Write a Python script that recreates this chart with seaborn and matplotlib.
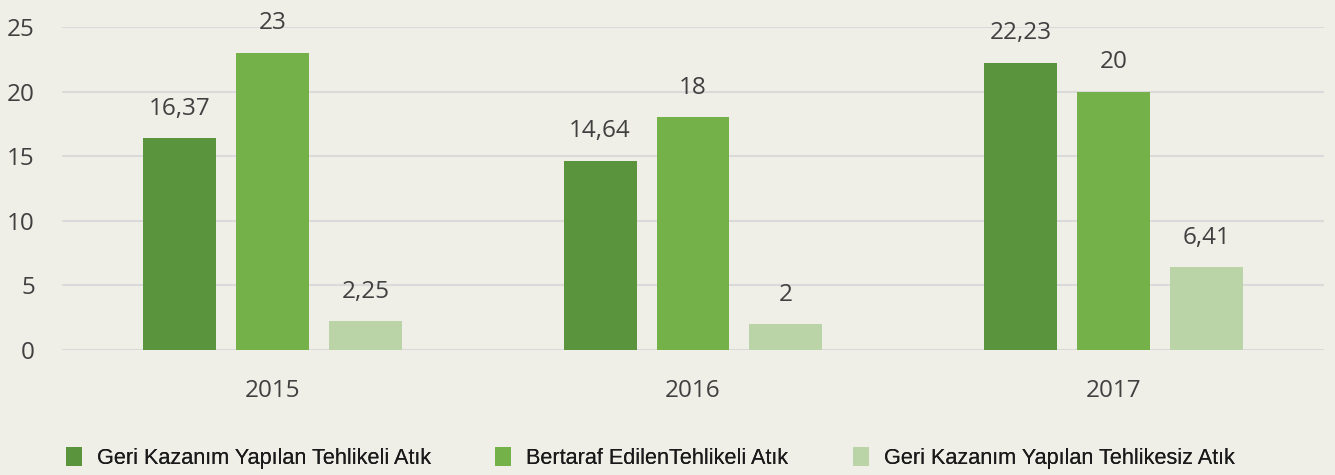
import pandas as pd
import seaborn as sns
import matplotlib.pyplot as plt
from matplotlib.patches import Patch

# data
years = ["2015", "2016", "2017"]
series = [
    "Geri Kazanım Yapılan Tehlikeli Atık",
    "Bertaraf EdilenTehlikeli Atık",
    "Geri Kazanım Yapılan Tehlikesiz Atık",
]
geri_kazanim_tehlikeli = [16.37, 14.64, 22.23]
bertaraf_tehlikeli = [23, 18, 20]
geri_kazanim_tehlikesiz = [2.25, 2, 6.41]
yticks = [0, 5, 10, 15, 20, 25]

colors = ["#5a943c", "#74b148", "#bad4a8"]
bg = "#efefe8"
text_color = "#404040"

rows = []
for name, vals in zip(series, [geri_kazanim_tehlikeli, bertaraf_tehlikeli, geri_kazanim_tehlikesiz]):
    for y, v in zip(years, vals):
        rows.append({"year": y, "series": name, "value": v})
df = pd.DataFrame(rows)

sns.set_theme(style="white")
plt.rcParams["font.family"] = ["Open Sans", "DejaVu Sans"]

fig = plt.figure(figsize=(13.35, 4.75), dpi=100, facecolor=bg)
ax = fig.add_axes([62 / 1335, 1 - 350 / 475, (1324 - 62) / 1335, (350 - 27) / 475])
ax.set_facecolor(bg)

sns.barplot(data=df, x="year", y="value", hue="series", hue_order=series,
            palette=colors, width=0.663, gap=0.215, saturation=1,
            linewidth=0, legend=False, ax=ax, zorder=3)

for cont in ax.containers:
    labels = [f"{b.get_height():g}".replace(".", ",") for b in cont]
    ax.bar_label(cont, labels=labels, padding=12.5, fontsize=17.5,
                 color=text_color, clip_on=False)

ax.set_ylim(0, 25)
ax.set_xlim(-0.5, 2.5)
ax.set_yticks(yticks)
ax.set_yticklabels([str(t) for t in yticks])
ax.yaxis.grid(True, color="#dadada", linewidth=1.5, zorder=0)
ax.set_axisbelow(True)
ax.tick_params(axis="y", length=0, pad=19.5, labelsize=17.5, labelcolor=text_color)
ax.tick_params(axis="x", length=0, pad=21, labelsize=17.5, labelcolor=text_color)
ax.set_xlabel("")
ax.set_ylabel("")
sns.despine(ax=ax, left=True, bottom=True)

# one legend entry per series, placed where the reference has them
legend_x = [66, 495, 853]
for name, c, x in zip(series, colors, legend_x):
    leg = fig.legend([Patch(facecolor=c, edgecolor="none")], [name],
                     loc="center left", bbox_to_anchor=(x / 1335, 1 - 458 / 475),
                     frameon=False, borderpad=0, borderaxespad=0,
                     prop={"family": "Liberation Sans", "size": 15.6},
                     handlelength=0.74, handleheight=1.0, handletextpad=0.69,
                     labelcolor="#1a1a1a")
    fig.add_artist(leg)

fig.savefig("out.png", dpi=100, facecolor=bg)
